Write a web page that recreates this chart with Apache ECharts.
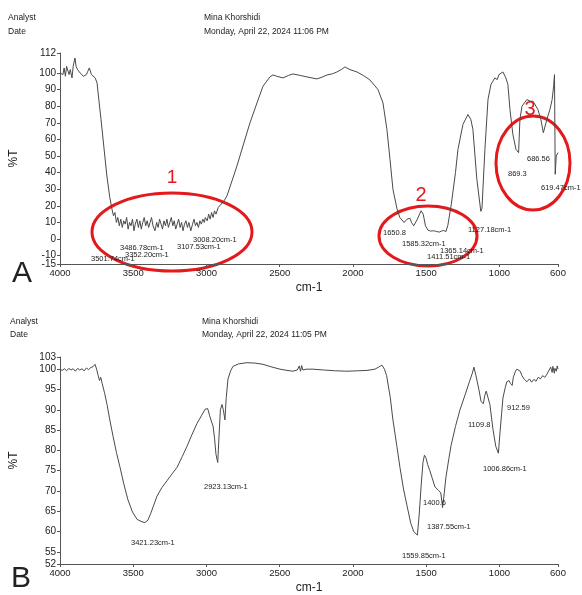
<!DOCTYPE html>
<html>
<head>
<meta charset="utf-8">
<script src="https://cdn.jsdelivr.net/npm/echarts@6/dist/echarts.min.js"></script>
<style>
  html, body { margin: 0; padding: 0; background: #fff; }
  #chart { width: 582px; height: 595px; }
</style>
</head>
<body>
<div id="chart"></div>
<script>
// wavenumber tick labels (shared by both spectra)
const wnTicks = [4000, 3500, 3000, 2500, 2000, 1500, 1000, 600]
const ticksA = [112, 100, 90, 80, 70, 60, 50, 40, 30, 20, 10, 0, -10, -15]
const ticksB = [103, 100, 95, 90, 85, 80, 75, 70, 65, 60, 55, 52]

// spectrum A: [cm-1, %T]
const spectrumA = [
  [4000, 100], [3990, 101], [3980, 99], [3972, 103], [3963, 98], [3955, 104], [3945, 105], [3938, 99],
  [3930, 102], [3918, 97], [3910, 104], [3898, 109], [3890, 104], [3880, 102], [3870, 101], [3863, 100],
  [3850, 99], [3840, 98], [3830, 97], [3820, 99], [3810, 101], [3800, 103], [3795, 102], [3785, 99],
  [3775, 100], [3760, 97], [3747, 94], [3740, 88], [3720, 72], [3700, 55], [3680, 38], [3660, 25],
  [3645, 18], [3635, 14],
  [3625, 16], [3615, 10], [3605, 13], [3595, 8], [3585, 12], [3575, 7], [3565, 11], [3555, 9],
  [3545, 13], [3535, 6], [3525, 10], [3515, 8], [3505, 12], [3495, 5], [3486, 9], [3475, 12],
  [3465, 7], [3455, 11], [3445, 6], [3435, 10], [3425, 13], [3415, 8], [3405, 11], [3395, 7],
  [3385, 10], [3375, 13], [3365, 8], [3352, 5], [3340, 10], [3330, 7], [3320, 12], [3310, 9],
  [3300, 6], [3290, 11], [3280, 8], [3270, 12], [3260, 7], [3250, 10], [3240, 13], [3230, 8],
  [3220, 11], [3210, 6], [3200, 9], [3190, 12], [3180, 7], [3170, 10], [3160, 5], [3150, 9],
  [3140, 11], [3130, 7], [3120, 10], [3107, 5], [3095, 9], [3085, 12], [3075, 8], [3065, 10],
  [3055, 7], [3045, 11], [3035, 9], [3025, 12], [3015, 10], [3008, 13], [2995, 11], [2985, 15],
  [2975, 12], [2965, 16], [2955, 13], [2945, 17], [2935, 15], [2920, 19], [2908, 20],
  [2880, 23], [2860, 26], [2792, 44], [2751, 56], [2703, 70], [2655, 82], [2614, 92], [2567, 97.6],
  [2546, 98.8], [2520, 98], [2478, 97], [2440, 98.5], [2410, 99.4], [2360, 98.5], [2314, 97.6],
  [2280, 97], [2246, 96.4], [2210, 97.5], [2177, 98.8], [2140, 99.5], [2109, 100.6], [2080, 102],
  [2055, 103.6], [2020, 102], [1973, 100.6], [1930, 98.5], [1884, 95.8], [1829, 90], [1795, 82],
  [1768, 66], [1747, 48], [1727, 30], [1700, 18.5], [1680, 13], [1651, 10], [1630, 12], [1611, 12.5],
  [1600, 10], [1585, 8], [1560, 12], [1535, 17], [1520, 15], [1505, 8], [1488, 5.4], [1470, 4.8],
  [1450, 5], [1430, 4.6], [1411, 4.2], [1395, 4.8], [1380, 5.2], [1365, 4.5], [1352, 8.3], [1330, 20],
  [1300, 40], [1283, 54], [1249, 69], [1215, 75], [1195, 72], [1181, 66], [1154, 36], [1127, 16.7],
  [1119, 18.5], [1099, 54], [1078, 84], [1058, 93], [1045, 95], [1031, 97], [1015, 96], [1003, 99],
  [990, 98], [976, 100.6], [956, 97], [942, 93], [928, 78], [908, 63], [887, 54], [869, 52],
  [860, 72], [846, 80], [812, 84], [790, 83], [771, 83], [737, 78], [717, 72], [700, 64],
  [687, 63], [676, 72], [655, 78], [640, 84], [630, 92], [624, 99], [619, 39], [612, 50], [600, 52]
]

// spectrum B: [cm-1, %T]
const spectrumB = [
  [4000, 100], [3985, 99.7], [3970, 100.1], [3955, 99.6], [3940, 100.2], [3925, 99.8], [3910, 100.1],
  [3895, 99.5], [3880, 100.2], [3865, 99.8], [3850, 100.1], [3835, 99.6], [3820, 100.3], [3805, 99.9],
  [3790, 100.4], [3775, 100.6], [3761, 101.2], [3750, 100], [3740, 98.5], [3730, 97.2], [3722, 98],
  [3712, 96.5], [3695, 94], [3679, 91.3], [3660, 87.5], [3638, 83.5], [3615, 79.5], [3590, 75.8],
  [3563, 71.5], [3536, 67.8], [3505, 64.8], [3474, 63], [3440, 62.4], [3421, 62.2], [3400, 62.8],
  [3380, 64.5], [3360, 66.5], [3338, 68.7], [3305, 70.8], [3270, 72.5], [3235, 74.2], [3201, 75.8],
  [3165, 78.5], [3133, 81], [3100, 83.8], [3065, 86.6], [3035, 88.5], [3010, 90.1], [2992, 90.3],
  [2978, 88.5], [2965, 87], [2955, 86], [2945, 83], [2935, 79], [2923, 77], [2915, 83], [2905, 90],
  [2894, 91.3], [2885, 90], [2874, 87.5], [2865, 93], [2853, 97.6], [2835, 99.6], [2819, 100.7],
  [2780, 101.3], [2724, 101.6], [2670, 101.5], [2614, 101.2], [2560, 100.6], [2498, 100], [2450, 99.7],
  [2410, 99.5], [2380, 99.8], [2366, 100.8], [2358, 99.5], [2350, 100.9], [2342, 99.8], [2320, 100],
  [2273, 100], [2200, 99.8], [2120, 99.6], [2041, 99.5], [1970, 99.6], [1904, 99.7], [1850, 100],
  [1816, 100.7], [1802, 101], [1785, 100], [1770, 98.4], [1745, 93], [1727, 87.5], [1700, 81],
  [1679, 75.8], [1655, 70.5], [1631, 66.4], [1605, 62], [1585, 60], [1560, 59.1], [1548, 64],
  [1535, 71], [1522, 77], [1512, 78.8], [1500, 78], [1490, 76.5], [1475, 75], [1461, 73.4],
  [1440, 71], [1415, 70.1], [1400, 69.5], [1388, 65.9], [1378, 69], [1365, 73.4], [1345, 78],
  [1330, 81.2], [1300, 85.9], [1270, 89.9], [1235, 93.6], [1205, 96.9], [1185, 99], [1174, 100.5],
  [1160, 98.4], [1140, 95], [1125, 92], [1110, 91.5], [1100, 93.5], [1090, 94.6], [1080, 94.8],
  [1065, 91.3], [1044, 85.2], [1025, 81], [1007, 79.3], [997, 84], [985, 89], [976, 92.9],
  [960, 95.5], [949, 96.9], [935, 97.2], [925, 96.5], [913, 96], [905, 98], [890, 99.5], [881, 100],
  [870, 100.3], [858, 99.5], [846, 98.4], [830, 97.5], [812, 96.9], [795, 97.6], [780, 96.8],
  [765, 97.5], [750, 97], [735, 98], [720, 97.6], [705, 98.4], [690, 98], [675, 98.8], [662, 99],
  [650, 100.5], [640, 99.2], [635, 100.7], [625, 99], [621, 100.2], [612, 99.5], [605, 100.8], [600, 100]
]

const FONT = '"Liberation Sans", Arial, sans-serif'
const RED = '#e3191c'
const INK = '#222'

// peak labels, [text, x, y] in px
const peakLabels = [
  ['3501.74cm-1', 91, 259], ['3486.78cm-1', 120, 248], ['3352.20cm-1', 125, 255],
  ['3107.53cm-1', 177, 247], ['3008.20cm-1', 193, 240],
  ['1650.8', 383, 233], ['1585.32cm-1', 402, 244], ['1365.14cm-1', 440, 251],
  ['1411.51cm-1', 427, 257], ['1127.18cm-1', 468, 230],
  ['686.56', 527, 159], ['869.3', 508, 174], ['619.47cm-1', 541, 188],
  ['3421.23cm-1', 131, 543], ['2923.13cm-1', 204, 487], ['1559.85cm-1', 402, 556],
  ['1387.55cm-1', 427, 527], ['1400.6', 423, 503], ['1006.86cm-1', 483, 469],
  ['1109.8', 468, 425], ['912.59', 507, 408]
]

const headerText = (x, y, text) => ({
  type: 'text', x, y,
  style: { text, font: '8.5px ' + FONT, fill: INK, textVerticalAlign: 'middle' }
})

const graphic = [
  headerText(8, 18, 'Analyst'), headerText(8, 32, 'Date'),
  headerText(204, 18, 'Mina Khorshidi'), headerText(204, 32, 'Monday, April 22, 2024 11:06 PM'),
  headerText(10, 322, 'Analyst'), headerText(10, 335, 'Date'),
  headerText(202, 322, 'Mina Khorshidi'), headerText(202, 335, 'Monday, April 22, 2024 11:05 PM'),
  { type: 'text', x: 22, y: 274, style: { text: 'A', font: '30px ' + FONT, fill: INK, textAlign: 'center', textVerticalAlign: 'middle' } },
  { type: 'text', x: 21, y: 579, style: { text: 'B', font: '30px ' + FONT, fill: INK, textAlign: 'center', textVerticalAlign: 'middle' } },
  // red circles around the regions of interest
  { type: 'ellipse', shape: { cx: 172, cy: 232, rx: 80, ry: 39 }, style: { fill: 'none', stroke: RED, lineWidth: 3 } },
  { type: 'ellipse', shape: { cx: 428, cy: 236, rx: 49, ry: 30 }, style: { fill: 'none', stroke: RED, lineWidth: 3 } },
  { type: 'ellipse', shape: { cx: 533, cy: 163, rx: 37, ry: 47 }, style: { fill: 'none', stroke: RED, lineWidth: 3 } },
  { type: 'text', x: 172, y: 178, style: { text: '1', font: '19px ' + FONT, fill: RED, textAlign: 'center', textVerticalAlign: 'middle' } },
  { type: 'text', x: 421, y: 195, style: { text: '2', font: '20px ' + FONT, fill: RED, textAlign: 'center', textVerticalAlign: 'middle' } },
  { type: 'text', x: 530, y: 109, style: { text: '3', font: '20px ' + FONT, fill: RED, textAlign: 'center', textVerticalAlign: 'middle' } }
]
peakLabels.forEach(p => {
  graphic.push({
    type: 'text', x: p[1], y: p[2], z: 10,
    style: { text: p[0], font: '7.5px ' + FONT, fill: INK, textVerticalAlign: 'middle' }
  })
})

const plain = v => String(v)

const xAxisCommon = {
  type: 'value',
  inverse: true,
  min: 600,
  max: 4000,
  name: 'cm-1',
  nameLocation: 'middle',
  nameGap: 18,
  nameTextStyle: { fontFamily: FONT, fontSize: 12, color: INK },
  axisLine: { onZero: false, lineStyle: { color: '#555', width: 1 } },
  axisTick: { customValues: wnTicks, length: 3, lineStyle: { color: '#555' } },
  axisLabel: {
    customValues: wnTicks, formatter: plain, showMinLabel: true, showMaxLabel: true,
    fontFamily: FONT, fontSize: 9.5, color: INK, margin: 4
  },
  splitLine: { show: false }
}

const yAxisCommon = (min, max, ticks, labels) => ({
  type: 'value',
  min, max,
  name: '%T',
  nameLocation: 'middle',
  nameGap: 40,
  nameTextStyle: { fontFamily: FONT, fontSize: 12, color: INK },
  axisLine: { show: true, onZero: false, lineStyle: { color: '#555', width: 1 } },
  axisTick: { show: true, customValues: ticks, length: 3, lineStyle: { color: '#555' } },
  axisLabel: {
    customValues: labels, formatter: plain, showMinLabel: true, showMaxLabel: true, hideOverlap: false,
    fontFamily: FONT, fontSize: 10, color: INK, margin: 4
  },
  splitLine: { show: false }
})

// the -10 / -15 labels sit too close together for one axis to keep both,
// so the bottom -15 label comes from a bare twin axis on the same grid
const minLabelA = ticksA.slice(-1)
const labelsA = ticksA.slice(0, -1)

const option = {
  animation: false,
  backgroundColor: '#fff',
  grid: [
    { left: 59, width: 499, top: 53, height: 211 },
    { left: 59, width: 499, top: 357, height: 213 }
  ],
  xAxis: [
    Object.assign({ gridIndex: 0 }, xAxisCommon),
    Object.assign({ gridIndex: 1 }, xAxisCommon)
  ],
  yAxis: [
    Object.assign({ gridIndex: 0 }, yAxisCommon(-15, 112, ticksA, labelsA)),
    Object.assign({ gridIndex: 1 }, yAxisCommon(52, 103, ticksB, ticksB)),
    {
      gridIndex: 0, type: 'value', min: -15, max: 112, position: 'left',
      axisLine: { show: false }, axisTick: { show: false }, splitLine: { show: false },
      axisLabel: {
        customValues: minLabelA, formatter: plain, showMinLabel: true,
        fontFamily: FONT, fontSize: 10, color: INK, margin: 4
      }
    }
  ],
  series: [
    {
      name: 'A', type: 'line', xAxisIndex: 0, yAxisIndex: 0,
      data: spectrumA, showSymbol: false, smooth: false,
      lineStyle: { color: '#4a4a4a', width: 1 }
    },
    {
      name: 'B', type: 'line', xAxisIndex: 1, yAxisIndex: 1,
      data: spectrumB, showSymbol: false, smooth: false,
      lineStyle: { color: '#4a4a4a', width: 1 }
    }
  ],
  graphic
}

const myChart = echarts.init(document.getElementById('chart'))
myChart.setOption(option)
</script>
</body>
</html>
